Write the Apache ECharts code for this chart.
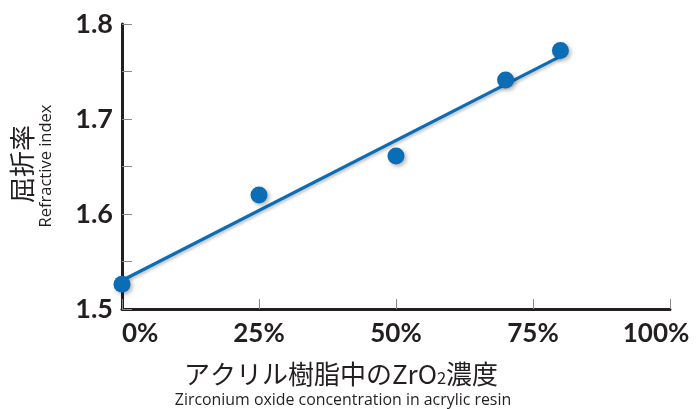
<!DOCTYPE html>
<html><head><meta charset="utf-8">
<script src="https://cdn.jsdelivr.net/npm/echarts@6/dist/echarts.min.js"></script>
<style>html,body{margin:0;padding:0;background:#fff}#c{width:697px;height:409px}</style>
</head><body><div id="c"></div>
<script>
const concentration = [0, 25, 50, 70, 80];
const refractiveIndex = [1.526, 1.620, 1.661, 1.741, 1.772];
const fitX = [0, 80];
const fitY = [1.530, 1.766];
const xTicks = [0, 25, 50, 75, 100];
const yTicks = [1.5, 1.6, 1.7, 1.8];

const blue = '#0b6db5';
const dark = '#231f20';
const numFont = 'Lato';
const chart = echarts.init(document.getElementById('c'));
chart.setOption({
  animation: false,
  grid: { left: 122, right: 27, top: 24, bottom: 100 },
  xAxis: {
    type: 'value', min: 0, max: 100, interval: 25,
    axisLine: { lineStyle: { color: dark, width: 3 } },
    axisTick: { inside: true, length: 10, lineStyle: { color: '#8a8a8a', width: 1 } },
    splitLine: { show: false },
    axisLabel: {
      margin: 12, color: dark, fontFamily: numFont, fontWeight: 'bold', fontSize: 26,
      alignMinLabel: 'left',
      formatter: v => v === 100 ? '{r|' + v + '%}' : v + '%',
      rich: { r: { padding: [0, 28, 0, 0], color: dark, fontFamily: numFont, fontWeight: 'bold', fontSize: 26 } }
    }
  },
  yAxis: {
    type: 'value', min: 1.5, max: 1.8, interval: 0.1,
    axisLine: { show: true, lineStyle: { color: dark, width: 3 } },
    axisTick: { show: true, inside: true, length: 10, lineStyle: { color: '#8a8a8a', width: 1 } },
    minorTick: { show: true, splitNumber: 2, length: 10, lineStyle: { color: '#8a8a8a', width: 1 } },
    splitLine: { show: false },
    axisLabel: {
      margin: 9, color: dark, fontFamily: numFont, fontWeight: 'bold', fontSize: 27,
      formatter: v => v.toFixed(1)
    }
  },
  graphic: [
    { type: 'text', rotation: Math.PI / 2, x: 9, y: 164,
      style: { text: '屈折率', fontSize: 26, fontFamily: 'Noto Sans CJK JP', fill: dark, align: 'center', verticalAlign: 'top' } },
    { type: 'text', rotation: Math.PI / 2, x: 38, y: 166,
      style: { text: 'Refractive index', fontSize: 16.5, fontFamily: 'Open Sans', fill: dark, align: 'center', verticalAlign: 'top' } },
    { type: 'text', x: 341, y: 374,
      style: { text: 'アクリル樹脂中のZrO{s|2}濃度', fontSize: 26, fontFamily: 'Noto Sans CJK JP', fill: dark, align: 'center', verticalAlign: 'middle',
        rich: { s: { fontSize: 16.5, fontFamily: 'Noto Sans CJK JP', padding: [7, 0, 0, 0], fill: dark } } } },
    { type: 'text', x: 343, y: 400,
      style: { text: 'Zirconium oxide concentration in acrylic resin', fontSize: 15.9, fontFamily: 'Open Sans', fill: dark, align: 'center', verticalAlign: 'middle' } }
  ],
  series: [
    { type: 'line', data: fitX.map((x, i) => [x, fitY[i]]), symbol: 'none', clip: false,
      lineStyle: { color: blue, width: 3.2, shadowColor: 'rgba(0,0,0,0.25)', shadowBlur: 3, shadowOffsetX: 1, shadowOffsetY: 2 }, z: 2 },
    { type: 'scatter', data: concentration.map((x, i) => [x, refractiveIndex[i]]), symbolSize: 17, clip: false,
      itemStyle: { color: blue, opacity: 1, shadowColor: 'rgba(0,0,0,0.3)', shadowBlur: 4, shadowOffsetX: 2, shadowOffsetY: 2 }, z: 3 }
  ]
});
</script></body></html>
